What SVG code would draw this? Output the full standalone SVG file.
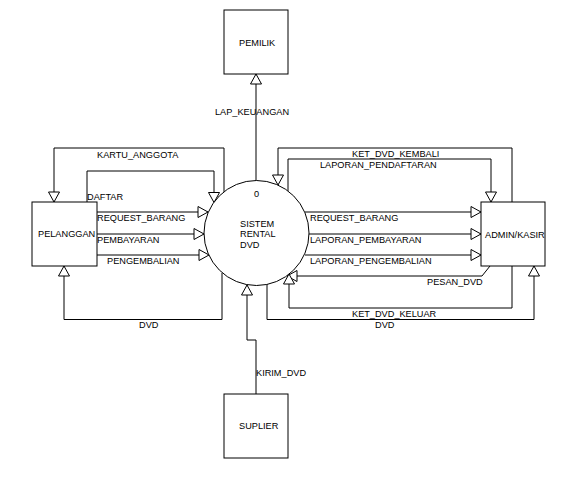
<svg xmlns="http://www.w3.org/2000/svg" width="578" height="483" viewBox="0 0 578 483">
<defs>
<style>
text{font-family:"Liberation Sans",Arial,sans-serif;font-size:9.2px;fill:#000}
.box{fill:#fff;stroke:#000;stroke-width:1}
.c{fill:none;stroke:#000;stroke-width:1}
</style>
<marker id="ah" markerUnits="userSpaceOnUse" markerWidth="12" markerHeight="13" refX="10" refY="5.5" orient="auto" overflow="visible">
<path d="M0,0 L10,5.5 L0,11 Z" fill="#fff" stroke="#000" stroke-width="1"/>
</marker>
</defs>
<rect width="578" height="483" fill="#fff"/>
<g id="connectors">
<path class="c" d="M256,181 V74" marker-end="url(#ah)"/>
<path class="c" d="M256,394 V340 H247 V285" marker-end="url(#ah)"/>
<path class="c" d="M224,192 V148 H54 V202" marker-end="url(#ah)"/>
<path class="c" d="M87,202 V171 H214 V202.5" marker-end="url(#ah)"/>
<path class="c" d="M97,212 H208" marker-end="url(#ah)"/>
<path class="c" d="M97,234 H204" marker-end="url(#ah)"/>
<path class="c" d="M97,255 H209" marker-end="url(#ah)"/>
<path class="c" d="M222,273 V319.5 H64 V266" marker-end="url(#ah)"/>
<path class="c" d="M512,202 V148 H278 V185" marker-end="url(#ah)"/>
<path class="c" d="M288,191 V159 H491 V202" marker-end="url(#ah)"/>
<path class="c" d="M305,212 H481" marker-end="url(#ah)"/>
<path class="c" d="M309,234 H481" marker-end="url(#ah)"/>
<path class="c" d="M305,255 H481" marker-end="url(#ah)"/>
<path class="c" d="M490,266 L482,276 H287" marker-end="url(#ah)"/>
<path class="c" d="M512,266 V308 H289 V274" marker-end="url(#ah)"/>
<path class="c" d="M267,284 V319.5 H534 V266" marker-end="url(#ah)"/>
<text x="215" y="114.5">LAP_KEUANGAN</text>
<text x="256" y="376">KIRIM_DVD</text>
<text x="97" y="157.5">KARTU_ANGGOTA</text>
<text x="87" y="200">DAFTAR</text>
<text x="97" y="221">REQUEST_BARANG</text>
<text x="97" y="242.5">PEMBAYARAN</text>
<text x="107" y="263.5">PENGEMBALIAN</text>
<text x="139" y="327.5">DVD</text>
<text x="352" y="156.5">KET_DVD_KEMBALI</text>
<text x="320" y="167.5">LAPORAN_PENDAFTARAN</text>
<text x="310" y="221">REQUEST_BARANG</text>
<text x="310" y="242.5">LAPORAN_PEMBAYARAN</text>
<text x="310" y="263.5">LAPORAN_PENGEMBALIAN</text>
<text x="427" y="285">PESAN_DVD</text>
<text x="352" y="316.5">KET_DVD_KELUAR</text>
<text x="375" y="327.5">DVD</text>
</g>
<g id="sistem">
<circle class="box" cx="256.5" cy="233" r="52.5"/>
<text x="254" y="196.5">0</text>
<text x="240" y="226.5">SISTEM</text>
<text x="240" y="237">RENTAL</text>
<text x="240" y="247.5">DVD</text>
</g>
<g id="pemilik">
<rect class="box" x="224" y="10" width="64" height="64"/>
<text x="239" y="45.5">PEMILIK</text>
</g>
<g id="suplier">
<rect class="box" x="224" y="394" width="64" height="64"/>
<text x="239" y="429">SUPLIER</text>
</g>
<g id="pelanggan">
<rect class="box" x="32" y="202" width="65" height="64"/>
<text x="38" y="237">PELANGGAN</text>
</g>
<g id="admin">
<rect class="box" x="481" y="202" width="64" height="64"/>
<text x="485" y="237.5">ADMIN/KASIR</text>
</g>
</svg>
